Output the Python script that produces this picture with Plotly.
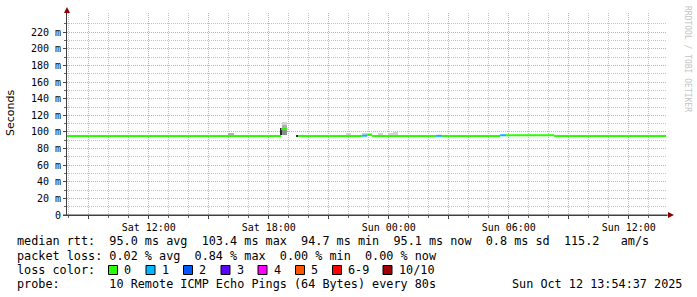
import plotly.graph_objects as go
from datetime import datetime, timedelta

# ---------------- data ----------------
t_start = "2025-10-11 07:54:37"
t_end = "2025-10-12 13:54:37"

# median rtt segments (ms) and loss count per segment
med_start = ["2025-10-11 07:55", "2025-10-11 18:37", "2025-10-11 19:28",
             "2025-10-11 22:40", "2025-10-11 22:55", "2025-10-11 23:10",
             "2025-10-12 02:22", "2025-10-12 02:40", "2025-10-12 05:34",
             "2025-10-12 05:52", "2025-10-12 08:16"]
med_end = ["2025-10-11 18:37", "2025-10-11 18:55", "2025-10-11 22:40",
           "2025-10-11 22:55", "2025-10-11 23:10", "2025-10-12 02:22",
           "2025-10-12 02:40", "2025-10-12 05:34", "2025-10-12 05:52",
           "2025-10-12 08:16", "2025-10-12 13:52"]
med_rtt = [95.0, 103.4, 95.0, 95.5, 96.5, 95.0, 95.3, 95.0, 96.0, 96.0, 95.0]
med_loss = [0, 0, 0, 1, 0, 0, 1, 0, 1, 0, 0]

# smoke (ping spread) blocks: time span, low/high rtt (ms), density layer
smoke_start = ["2025-10-11 15:58", "2025-10-11 18:40", "2025-10-11 18:40",
               "2025-10-11 18:40", "2025-10-11 21:52", "2025-10-11 22:40",
               "2025-10-11 23:28", "2025-10-11 23:58", "2025-10-12 00:13"]
smoke_end = ["2025-10-11 16:16", "2025-10-11 18:55", "2025-10-11 18:55",
             "2025-10-11 18:55", "2025-10-11 22:07", "2025-10-11 23:10",
             "2025-10-11 23:43", "2025-10-12 00:13", "2025-10-12 00:28"]
smoke_lo = [95.0, 96.3, 96.3, 96.3, 95.0, 95.0, 95.0, 95.0, 95.0]
smoke_hi = [98.6, 112.3, 108.4, 104.5, 98.2, 98.8, 98.2, 98.2, 99.4]
smoke_layer = [2, 1, 2, 3, 1, 1, 1, 1, 1]

# dark marks (single-ping samples)
dark_start = ["2025-10-11 18:36", "2025-10-11 19:24"]
dark_end = ["2025-10-11 18:39", "2025-10-11 19:28"]
dark_lo = [96.0, 94.3]
dark_hi = [104.7, 96.7]

y_tick_vals = [0, 20, 40, 60, 80, 100, 120, 140, 160, 180, 200, 220]
y_tick_text = ["0", "20 m", "40 m", "60 m", "80 m", "100 m", "120 m", "140 m",
               "160 m", "180 m", "200 m", "220 m"]
x_label_times = ["2025-10-11 12:00", "2025-10-11 18:00", "2025-10-12 00:00",
                 "2025-10-12 06:00", "2025-10-12 12:00"]
x_label_text = ["Sat 12:00", "Sat 18:00", "Sun 00:00", "Sun 06:00", "Sun 12:00"]

rtt_stats = [95.0, 103.4, 94.7, 95.1, 0.8]
rtt_names = ["avg", "max", "min", "now", "sd"]
am_per_s = 115.2
loss_stats = [0.02, 0.84, 0.00, 0.00]
loss_names = ["avg", "max", "min", "now"]
loss_labels = ["0", "1", "2", "3", "4", "5", "6-9", "10/10"]
loss_keys = [0, 1, 2, 3, 4, 5, 6, 10]
probe_text = "10 Remote ICMP Echo Pings (64 Bytes) every 80s"
stamp_text = "Sun Oct 12 13:54:37 2025"

# ---------------- styles ----------------
LOSS_COLORS = {0: "#26ff00", 1: "#00b8ff", 2: "#0059ff", 3: "#5e00ff",
               4: "#ff00ff", 5: "#ff5500", 6: "#ff0000", 10: "#a00000"}
SHADES = {1: "#d2d2d2", 2: "#aeaeae", 3: "#8c8c8c"}
MONO = "DejaVu Sans Mono"
GRID = "rgba(175,175,175,0.75)"
MGRID = "rgba(220,120,120,0.7)"

FMT = "%Y-%m-%d %H:%M"
def P(s):
    return datetime.strptime(s, FMT)

L, R, T, B = 67, 30, 13, 82
W, H = 697, 297
PW, PH = W - L - R, H - T - B
def px(x):
    return (x - L) / PW
def py(y):
    return (T + PH - y) / PH

fig = go.Figure()

# smoke
for layer in sorted(set(smoke_layer)):
    idx = [i for i, l in enumerate(smoke_layer) if l == layer]
    xs, ys, bs, ws = [], [], [], []
    for i in idx:
        a, b = P(smoke_start[i]), P(smoke_end[i])
        xs.append(a + (b - a) / 2)
        ws.append((b - a).total_seconds() * 1000)
        bs.append(smoke_lo[i])
        ys.append(smoke_hi[i] - smoke_lo[i])
    fig.add_trace(go.Bar(x=xs, y=ys, base=bs, width=ws,
                         marker=dict(color=SHADES[layer], line_width=0),
                         hoverinfo="skip"))

# dark marks
xs, ys, bs, ws = [], [], [], []
for i in range(len(dark_start)):
    a, b = P(dark_start[i]), P(dark_end[i])
    xs.append(a + (b - a) / 2)
    ws.append((b - a).total_seconds() * 1000)
    bs.append(dark_lo[i])
    ys.append(dark_hi[i] - dark_lo[i])
fig.add_trace(go.Bar(x=xs, y=ys, base=bs, width=ws,
                     marker=dict(color="#2a2a2a", line_width=0), hoverinfo="skip"))

# median line per loss color
for lk in sorted(set(med_loss)):
    xs, ys = [], []
    for i, l in enumerate(med_loss):
        if l == lk:
            xs += [P(med_start[i]), P(med_end[i]), None]
            ys += [med_rtt[i], med_rtt[i], None]
    fig.add_trace(go.Scatter(x=xs, y=ys, mode="lines",
                             line=dict(color=LOSS_COLORS[lk], width=2),
                             hoverinfo="skip"))

# axes
t0 = datetime.strptime(t_start, "%Y-%m-%d %H:%M:%S")
t1 = datetime.strptime(t_end, "%Y-%m-%d %H:%M:%S")
major_x, minor_x = [], []
h = t0.replace(minute=0, second=0) + timedelta(hours=1)
while h <= t1:
    (major_x if h.hour % 3 == 0 else minor_x).append(h)
    h += timedelta(hours=1)
lab = {P(t): s for t, s in zip(x_label_times, x_label_text)}
major_text = [lab.get(t, "") for t in major_x]

fig.update_xaxes(type="date", range=[t0, t1], tickmode="array",
                 tickvals=major_x, ticktext=major_text,
                 showgrid=True, gridcolor=MGRID, griddash="1px,1px", gridwidth=1,
                 ticks="outside", ticklen=3, tickcolor="#444",
                 minor=dict(tickmode="array", tickvals=minor_x, showgrid=True,
                            gridcolor=GRID, griddash="1px,1px", gridwidth=1,
                            ticks="outside", ticklen=2, tickcolor="#666"),
                 showline=True, linecolor="#404040", linewidth=1,
                 zeroline=False, fixedrange=True,
                 tickfont=dict(family=MONO, size=10, color="#000"))
fig.update_yaxes(range=[0, 243.2], tickmode="array", tickvals=y_tick_vals,
                 ticktext=y_tick_text,
                 showgrid=True, gridcolor=MGRID, griddash="1px,1px", gridwidth=1,
                 ticks="outside", ticklen=3, tickcolor="#444",
                 minor=dict(tickmode="array", tickvals=[v + 10 for v in y_tick_vals],
                            showgrid=True, gridcolor=GRID, griddash="1px,1px",
                            gridwidth=1, ticks="outside", ticklen=2, tickcolor="#666"),
                 showline=True, linecolor="#404040", linewidth=1,
                 zeroline=False, fixedrange=True,
                 tickfont=dict(family=MONO, size=10, color="#000"))

shapes = []
# arrows
AR = "#8b0000"
shapes.append(dict(type="path", xref="paper", yref="paper",
                   path=f"M {px(64)} {py(13)} L {px(70)} {py(13)} L {px(67)} {py(7)} Z",
                   fillcolor=AR, line=dict(width=0)))
shapes.append(dict(type="path", xref="paper", yref="paper",
                   path=f"M {px(668)} {py(212)} L {px(668)} {py(218)} L {px(674)} {py(215)} Z",
                   fillcolor=AR, line=dict(width=0)))
shapes.append(dict(type="line", xref="paper", yref="paper",
                   x0=px(63), x1=px(668), y0=py(215), y1=py(215),
                   line=dict(color="#404040", width=1)))

annotations = []
def text(x, y, s, size=11.8, anchor="left", color="#000", family=MONO, angle=0):
    annotations.append(dict(xref="paper", yref="paper", x=px(x), y=py(y),
                            xanchor=anchor, yanchor="middle", showarrow=False,
                            text=s.replace(" ", "\u00a0"), textangle=angle,
                            font=dict(family=family, size=size, color=color),
                            borderpad=0))

row1 = "median rtt:  " + "  ".join(f"{v:.1f} ms {n}" for v, n in zip(rtt_stats, rtt_names)) \
       + f"  {am_per_s:.1f}   am/s"
row2 = "packet loss: " + "  ".join(f"{v:.2f} % {n}" for v, n in zip(loss_stats, loss_names))
text(16, 241, row1)
text(16, 256, row2)
text(16, 270, "loss color:")
text(16, 284, "probe:       " + probe_text)
text(683, 284, stamp_text, anchor="right")

box_x = [108.5, 146, 183.5, 221, 258, 295.5, 332.5, 383]
for bx, lk, lb in zip(box_x, loss_keys, loss_labels):
    shapes.append(dict(type="rect", xref="paper", yref="paper",
                       x0=px(bx), x1=px(bx + 9), y0=py(274.5), y1=py(265.5),
                       fillcolor=LOSS_COLORS[lk], line=dict(color="#000", width=1)))
    text(bx + 14.5, 270, lb)

text(10, 113, "Seconds", size=11, family="DejaVu Sans", angle=-90, anchor="center")
text(687, 59, "RRDTOOL / TOBI OETIKER", size=8, color="#c4c4c4", angle=90, anchor="center")

fig.update_layout(width=W, height=H, margin=dict(l=L, r=R, t=T, b=B),
                  paper_bgcolor="white", plot_bgcolor="white",
                  showlegend=False, barmode="overlay", bargap=0,
                  shapes=shapes, annotations=annotations)

fig.write_html("out.html")
